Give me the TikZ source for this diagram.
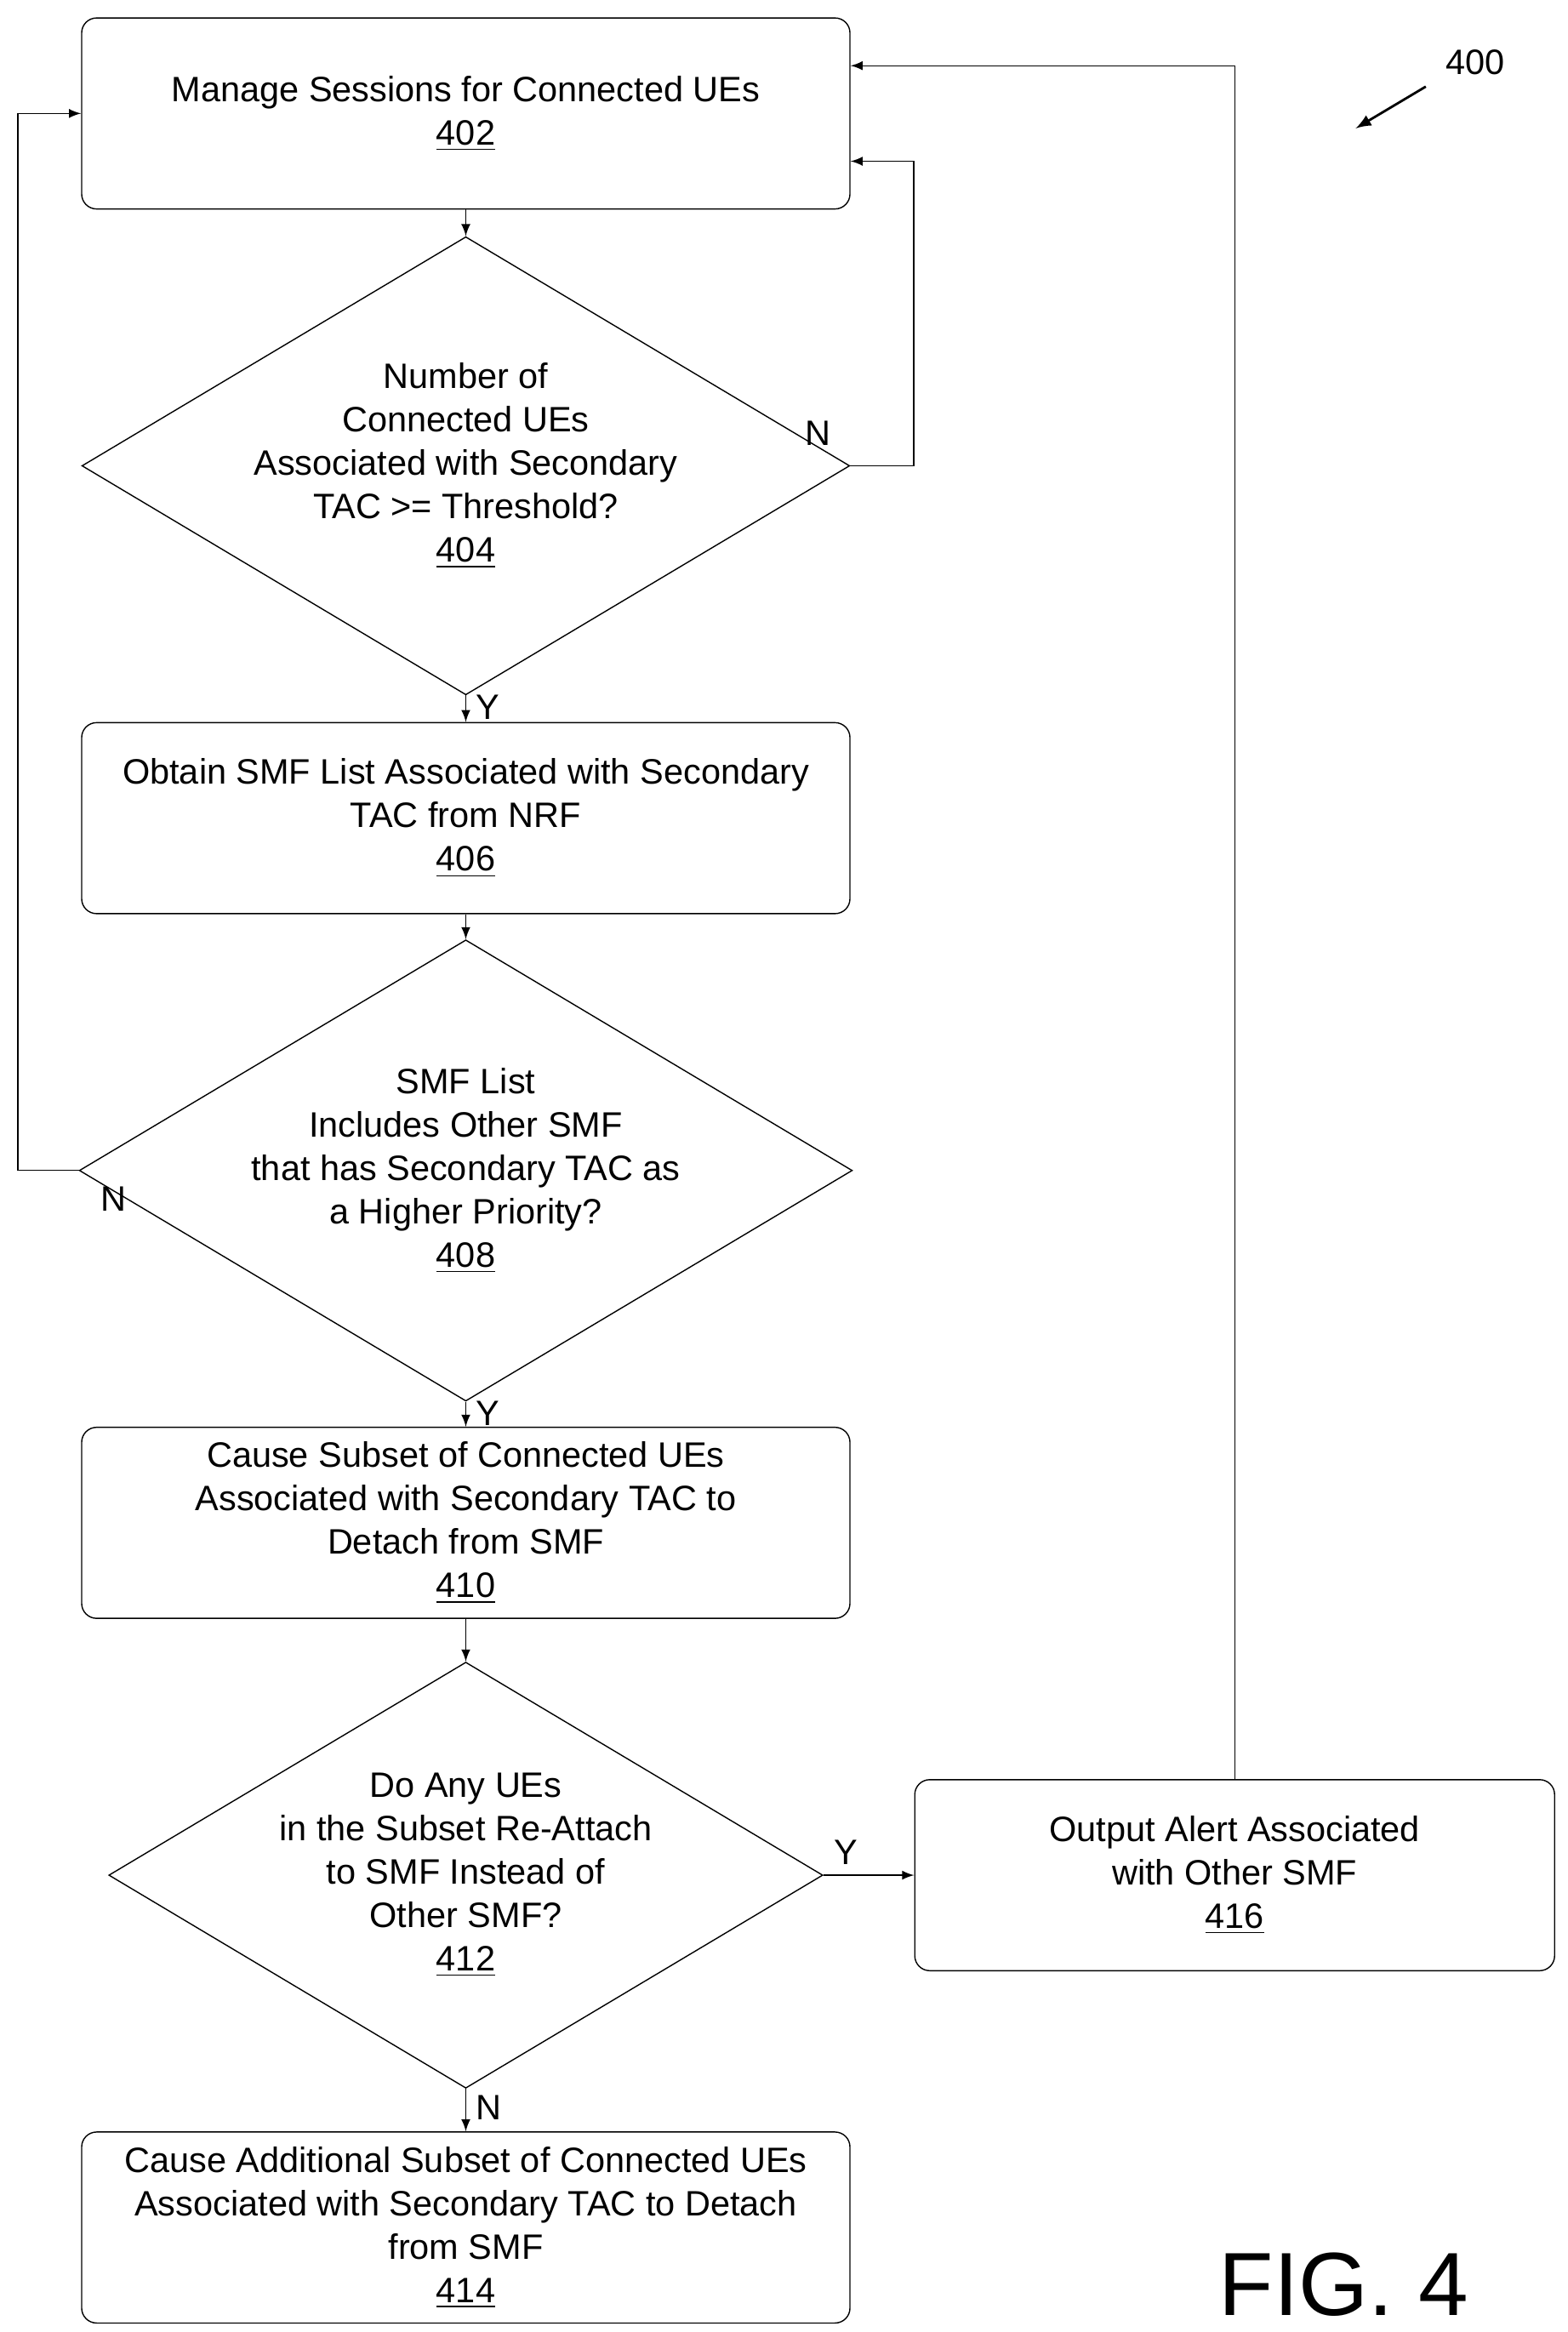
\documentclass[tikz,border=0pt]{standalone}
\usepackage{fontspec}
\setmainfont{Liberation Sans}
\usetikzlibrary{shapes.geometric}

\begin{document}
\begin{tikzpicture}[x=0.01754cm, y=-0.01754cm, font=\fontsize{11.8pt}{14.5pt}\selectfont,
  box/.style={draw, rectangle, rounded corners=5pt, minimum width=9.03cm, minimum height=2.245cm, align=center, thin},
  dec/.style={draw, diamond, aspect=1.676, minimum width=7.52cm, minimum height=4.49cm, inner sep=0pt, align=center, thin},
  arr/.style={->, >=latex, thin}]
\useasboundingbox (0,0) rectangle (1050,1562);
\node (manage) [box] at (312,76) {Manage Sessions for Connected UEs\\\underline{402}};
\node (count) [dec] at (312,312) {Number of\\Connected UEs\\Associated with Secondary\\TAC >= Threshold?\\\underline{404}};
\node (obtain) [box] at (312,548) {Obtain SMF List Associated with Secondary\\TAC from NRF\\\underline{406}};
\node (other) [dec] at (312,784) {SMF List\\Includes Other SMF\\that has Secondary TAC as\\a Higher Priority?\\\underline{408}};
\node (detach) [box] at (312,1020) {Cause Subset of Connected UEs\\Associated with Secondary TAC to\\Detach from SMF\\\underline{410}};
\node (reattach) [dec] at (312,1256) {Do Any UEs\\in the Subset Re-Attach\\to SMF Instead of\\Other SMF?\\\underline{412}};
\node (more) [box] at (312,1492) {Cause Additional Subset of Connected UEs\\Associated with Secondary TAC to Detach\\from SMF\\\underline{414}};
\node (alert) [box, minimum width=7.52cm] at (827,1256) {Output Alert Associated\\with Other SMF\\\underline{416}};

\draw[arr] (manage) -- (count);
\draw[arr] (count) -- node[right, pos=0.45] {Y} (obtain);
\draw[arr] (obtain) -- (other);
\draw[arr] (other) -- node[right, pos=0.45] {Y} (detach);
\draw[arr] (detach) -- (reattach);
\draw[arr] (reattach) -- node[right, pos=0.45] {N} (more);
\draw[arr] (reattach) -- node[above, pos=0.25] {Y} (alert);
\draw[arr] (count.east) -- (612,312) -- (612,108) -- (manage.east |- 0,108);
\node (n404) at (548,290) {N};
\draw[arr] (other.west) -- (12,784) -- (12,76) -- (manage.west);
\node (n408) at (76,803) {N};
\draw[arr] (alert.north) -- (827,44) -- (manage.east |- 0,44);

\node (fignum) at (988,42) {400};
\coordinate (tip) at (908,86);
\draw[arr, thick] (955,58) -- (tip);
\node (fig) at (900,1530) {\fontsize{30pt}{33pt}\selectfont FIG. 4};
\end{tikzpicture}
\end{document}
